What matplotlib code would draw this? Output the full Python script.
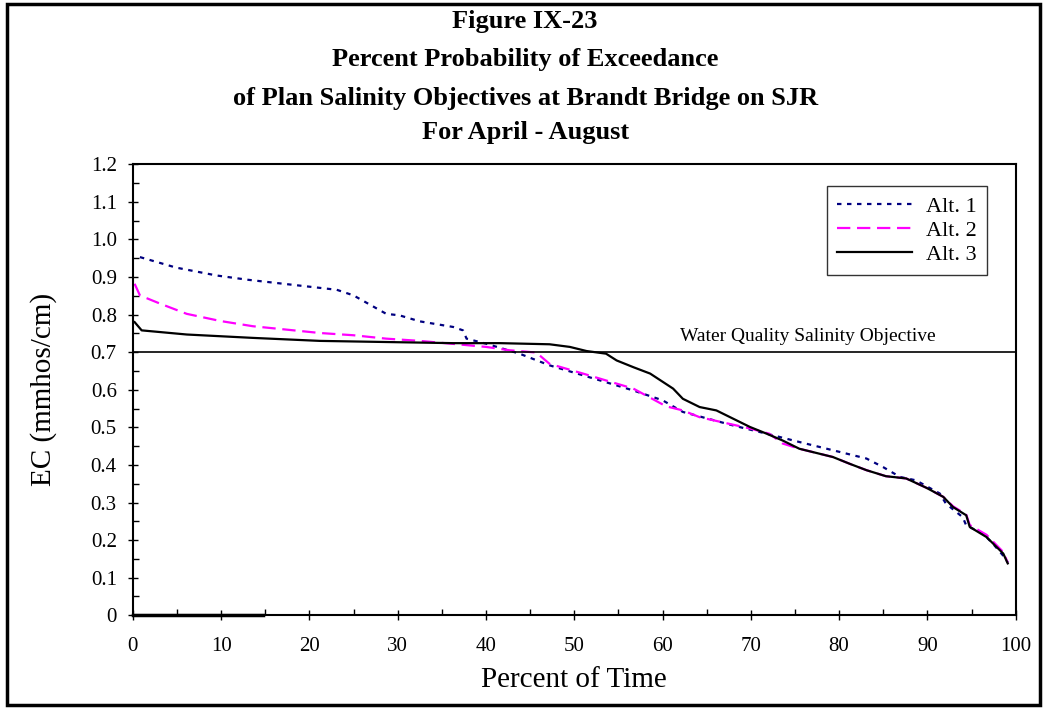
import matplotlib
matplotlib.use('Agg')
import matplotlib.pyplot as plt
from matplotlib.patches import Rectangle
from matplotlib.ticker import MultipleLocator

plt.rcParams['font.family'] = ['Liberation Serif', 'DejaVu Serif']

# Alt. 1 (dotted navy)
alt1_x = [0.8, 4.9, 9.5, 12.9, 16.3, 19.7, 23.1, 25.0, 28.7, 30.2, 32.5, 36.3, 37.4,
          37.8, 40.1, 43.8, 47.2, 52.9, 56.7, 60.0, 62.3, 68.0, 71.8, 75.5, 79.3,
          83.1, 85.0, 86.9, 88.7, 91.4, 92.1, 94.0, 94.4, 96.3, 97.4, 98.9, 99.1]
alt1_y = [0.953, 0.925, 0.904, 0.893, 0.884, 0.875, 0.866, 0.851, 0.802, 0.798, 0.782,
          0.767, 0.758, 0.736, 0.722, 0.696, 0.665, 0.625, 0.598, 0.572, 0.541, 0.505,
          0.483, 0.461, 0.439, 0.417, 0.394, 0.368, 0.359, 0.324, 0.297, 0.261, 0.239,
          0.217, 0.191, 0.150, 0.140]

# Alt. 2 (dashed magenta)
alt2_x = [0.2, 0.8, 3.1, 6.1, 9.9, 13.6, 17.4, 21.2, 25.0, 28.7, 32.5, 36.3, 40.0,
          42.7, 45.7, 47.2, 51.0, 56.7, 60.4, 62.3, 64.2, 69.9, 72.1, 73.6, 75.5,
          79.3, 81.2, 83.1, 85.3, 87.6, 89.9, 91.8, 92.9, 94.4, 94.8, 96.7, 98.6, 99.1]
alt2_y = [0.882, 0.851, 0.829, 0.802, 0.783, 0.769, 0.760, 0.751, 0.745, 0.736, 0.730,
          0.722, 0.714, 0.705, 0.699, 0.669, 0.643, 0.603, 0.556, 0.545, 0.527, 0.497,
          0.483, 0.457, 0.443, 0.421, 0.403, 0.386, 0.370, 0.364, 0.339, 0.315, 0.290,
          0.268, 0.240, 0.214, 0.168, 0.140]

# Alt. 3 (solid black)
alt3_x = [0.2, 1.0, 6.1, 13.6, 21.2, 28.7, 36.3, 41.6, 47.2, 49.5, 51.4, 53.6, 54.8,
          56.7, 58.6, 61.2, 62.3, 64.2, 66.1, 68.0, 69.9, 71.8, 73.6, 75.5, 79.3,
          81.2, 83.1, 85.3, 87.6, 89.9, 91.8, 92.9, 94.4, 94.8, 96.7, 98.6, 99.1]
alt3_y = [0.780, 0.758, 0.747, 0.738, 0.730, 0.727, 0.724, 0.724, 0.721, 0.714, 0.703,
          0.696, 0.678, 0.660, 0.643, 0.603, 0.576, 0.554, 0.545, 0.523, 0.501, 0.483,
          0.465, 0.443, 0.421, 0.403, 0.386, 0.370, 0.364, 0.339, 0.315, 0.288, 0.266,
          0.235, 0.208, 0.164, 0.138]

# short zero segment on the x axis
zero_x = [0, 14.7]
zero_y = [0, 0]

objective = 0.7

title_lines = ["Figure IX-23",
               "Percent Probability of Exceedance",
               "of Plan Salinity Objectives at Brandt Bridge on SJR",
               "For April - August"]

fig = plt.figure(figsize=(10.46, 7.08), dpi=100)
ax = fig.add_axes([0.127, 0.131, 0.844, 0.637])

ax.plot(alt1_x, alt1_y, color="#000080", lw=1.6, ls=(0, (2, 2.5)), label="Alt. 1")
ax.plot(alt2_x, alt2_y, color="#FF00FF", lw=1.6, ls=(0, (6, 3)), label="Alt. 2")
ax.plot(alt3_x, alt3_y, color="black", lw=1.6, label="Alt. 3")
ax.plot(zero_x, zero_y, color="black", lw=2.5, clip_on=False)
ax.axhline(objective, color="black", lw=1.2)
ax.text(76.5, objective + 0.02, "Water Quality Salinity Objective", ha="center",
        va="bottom", fontsize=14)

ax.set_xlim(0, 100)
ax.set_ylim(0, 1.2)
ax.xaxis.set_major_locator(MultipleLocator(10))
ax.xaxis.set_minor_locator(MultipleLocator(5))
ax.yaxis.set_major_locator(MultipleLocator(0.1))
ax.yaxis.set_minor_locator(MultipleLocator(0.05))
ax.yaxis.set_major_formatter(plt.FuncFormatter(lambda v, p: "0" if abs(v) < 1e-9 else f"{v:.1f}"))
ax.tick_params(which="major", direction="inout", length=7, width=1, labelsize=15)
ax.tick_params(which="minor", direction="in", length=4, width=1)
ax.tick_params(axis="x", pad=12)
ax.tick_params(axis="y", pad=8)
for s in ax.spines.values():
    s.set_linewidth(1.5)

ax.set_xlabel("Percent of Time", fontsize=21, labelpad=8)
ax.set_ylabel("EC (mmhos/cm)", fontsize=21, labelpad=24)

leg = ax.legend(loc="upper right", bbox_to_anchor=(0.967, 0.951), fontsize=16,
                frameon=True, fancybox=False, edgecolor="black", handlelength=3.4,
                borderpad=0.45, labelspacing=0.15, borderaxespad=0, handletextpad=0.6)
leg.get_frame().set_linewidth(1.0)

ys = [0.970, 0.916, 0.861, 0.813]
for t, y in zip(title_lines, ys):
    fig.text(0.502, y, t, ha="center", va="center", fontsize=19, fontweight="bold")

fig.patches.append(Rectangle((0.007, 0.004), 0.987, 0.991, transform=fig.transFigure,
                             fill=False, edgecolor="black", lw=2.5))

plt.savefig("out.png", dpi=100)
